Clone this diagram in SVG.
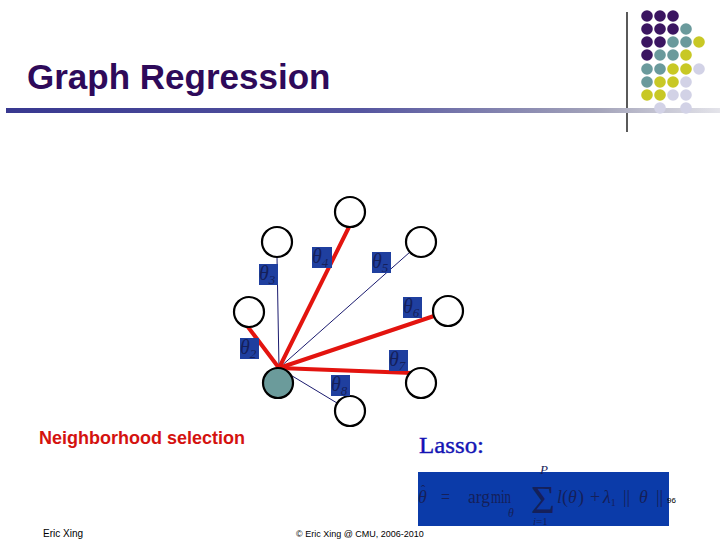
<svg xmlns="http://www.w3.org/2000/svg" width="720" height="540" viewBox="0 0 720 540">
<defs>
<linearGradient id="bar" x1="6" y1="0" x2="720" y2="0" gradientUnits="userSpaceOnUse">
<stop offset="0" stop-color="#383890"/>
<stop offset="0.5" stop-color="#5656a0"/>
<stop offset="0.83" stop-color="#a4a4ba"/>
<stop offset="1" stop-color="#e4e4ea"/>
</linearGradient>
</defs>
<style>
.node{fill:#fff;stroke:#000;stroke-width:2.2}
.hub{fill:#6b9b9b;stroke:#000;stroke-width:2.2}
.red{stroke:#e3140f;stroke-width:4;stroke-linecap:round}
.thin{stroke:#1a1a6e;stroke-width:1}
.lbl{fill:#1f3f9f}
.th{font-family:'Liberation Serif',serif;font-style:italic;fill:#15205a}
.f{font-family:'Liberation Serif',serif;fill:#15205a}
.P{fill:#3b1561}.T{fill:#6a9a9c}.Y{fill:#c8c825}.L{fill:#d2d2e6}
</style>
<rect width="720" height="540" fill="#fff"/>
<g id="decor">
<line x1="627" y1="12" x2="627" y2="132" stroke="#000" stroke-width="1.3"/>
<rect x="6" y="108" width="714" height="5" fill="url(#bar)"/>
<g>
<circle class="P" cx="647" cy="16" r="5.8"/><circle class="P" cx="660" cy="16" r="5.8"/><circle class="P" cx="673" cy="16" r="5.8"/>
<circle class="P" cx="647" cy="29" r="5.8"/><circle class="P" cx="660" cy="29" r="5.8"/><circle class="P" cx="673" cy="29" r="5.8"/><circle class="T" cx="686" cy="29" r="5.8"/>
<circle class="P" cx="647" cy="42" r="5.8"/><circle class="P" cx="660" cy="42" r="5.8"/><circle class="T" cx="673" cy="42" r="5.8"/><circle class="T" cx="686" cy="42" r="5.8"/><circle class="Y" cx="699" cy="42" r="5.8"/>
<circle class="P" cx="647" cy="55" r="5.8"/><circle class="T" cx="660" cy="55" r="5.8"/><circle class="T" cx="673" cy="55" r="5.8"/><circle class="Y" cx="686" cy="55" r="5.8"/>
<circle class="T" cx="647" cy="69" r="5.8"/><circle class="T" cx="660" cy="69" r="5.8"/><circle class="Y" cx="673" cy="69" r="5.8"/><circle class="Y" cx="686" cy="69" r="5.8"/><circle class="L" cx="699" cy="69" r="5.8"/>
<circle class="T" cx="647" cy="82" r="5.8"/><circle class="Y" cx="660" cy="82" r="5.8"/><circle class="Y" cx="673" cy="82" r="5.8"/><circle class="L" cx="686" cy="82" r="5.8"/>
<circle class="Y" cx="647" cy="95" r="5.8"/><circle class="Y" cx="660" cy="95" r="5.8"/><circle class="L" cx="673" cy="95" r="5.8"/><circle class="L" cx="686" cy="95" r="5.8"/>
<circle class="L" cx="660" cy="108" r="5.8"/><circle class="L" cx="686" cy="108" r="5.8"/>
</g>
</g>
<text x="27" y="89" font-family="'Liberation Sans',Arial,sans-serif" font-weight="bold" font-size="35" fill="#2e0a5a">Graph Regression</text>
<g id="connectors">
<line class="thin" x1="277" y1="257" x2="279" y2="368"/>
<line class="thin" x1="410" y1="252" x2="279" y2="368"/>
<line class="thin" x1="279" y1="368" x2="337" y2="403"/>
<line class="red" x1="279" y1="368" x2="349" y2="227"/>
<line class="red" x1="279" y1="368" x2="248" y2="327"/>
<line class="red" x1="279" y1="368" x2="434" y2="316"/>
<line class="red" x1="279" y1="368" x2="412" y2="373"/>
</g>
<g id="n1"><circle class="node" cx="350" cy="212" r="15"/></g>
<g id="n3"><circle class="node" cx="277" cy="242" r="15"/></g>
<g id="n5"><circle class="node" cx="421" cy="242" r="15"/></g>
<g id="n2"><circle class="node" cx="249" cy="312" r="15"/></g>
<g id="n6"><circle class="node" cx="448" cy="311" r="15"/></g>
<g id="hub"><circle class="hub" cx="278" cy="383" r="15"/></g>
<g id="n7"><circle class="node" cx="421" cy="383" r="15"/></g>
<g id="n8"><circle class="node" cx="350" cy="411" r="15"/></g>
<g id="labels">
<g><rect class="lbl" x="259" y="264" width="19" height="21"/><text class="th" x="259" y="280" font-size="20">θ<tspan font-size="13" dy="4">3</tspan></text></g>
<g><rect class="lbl" x="312" y="247" width="20" height="21"/><text class="th" x="312" y="263" font-size="20">θ<tspan font-size="13" dy="4">4</tspan></text></g>
<g><rect class="lbl" x="372" y="252" width="19" height="21"/><text class="th" x="372" y="268" font-size="20">θ<tspan font-size="13" dy="4">5</tspan></text></g>
<g><rect class="lbl" x="403" y="297" width="19" height="21"/><text class="th" x="403" y="313" font-size="20">θ<tspan font-size="13" dy="4">6</tspan></text></g>
<g><rect class="lbl" x="240" y="338" width="19" height="21"/><text class="th" x="240" y="354" font-size="20">θ<tspan font-size="13" dy="4">2</tspan></text></g>
<g><rect class="lbl" x="389" y="350" width="19" height="21"/><text class="th" x="389" y="366" font-size="20">θ<tspan font-size="13" dy="4">7</tspan></text></g>
<g><rect class="lbl" x="331" y="375" width="19" height="21"/><text class="th" x="331" y="391" font-size="20">θ<tspan font-size="13" dy="4">8</tspan></text></g>
</g>
<text x="39" y="444" font-family="'Liberation Sans',Arial,sans-serif" font-weight="bold" font-size="18" fill="#d4120f">Neighborhood selection</text>
<text x="419" y="453" font-family="'Liberation Serif',serif" font-size="24" fill="#1414b4" textLength="65" lengthAdjust="spacingAndGlyphs" stroke="#1414b4" stroke-width="0.4">Lasso:</text>
<g id="formula">
<rect x="418" y="472" width="251" height="54" fill="#0b3ba9"/>
<text class="f" x="421" y="494" font-size="13">ˆ</text>
<text class="th" x="418" y="503" font-size="18">θ</text>
<text class="f" x="441" y="503" font-size="18" textLength="9" lengthAdjust="spacingAndGlyphs">=</text>
<text class="f" x="468" y="503" font-size="18" textLength="22" lengthAdjust="spacingAndGlyphs">arg</text>
<text class="f" x="491" y="503" font-size="18" textLength="20" lengthAdjust="spacingAndGlyphs">min</text>
<text class="th" x="508" y="517" font-size="12">θ</text>
<text class="f" x="531" y="513" font-size="40" textLength="24" lengthAdjust="spacingAndGlyphs">Σ</text>
<text class="th" x="540" y="474" font-size="13">P</text>
<text class="th" x="533" y="525" font-size="11">i<tspan font-style="normal">=1</tspan></text>
<text class="th" x="557" y="503" font-size="18">l</text>
<text class="f" x="562" y="503" font-size="18">(</text>
<text class="th" x="568" y="503" font-size="18">θ</text>
<text class="f" x="578" y="503" font-size="18">)</text>
<text class="f" x="590" y="503" font-size="18">+</text>
<text class="th" x="603" y="503" font-size="18">λ<tspan font-style="normal" font-size="10" dy="3">1</tspan></text>
<text class="f" x="623" y="503" font-size="18">||</text>
<text class="th" x="639" y="503" font-size="18">θ</text>
<text class="f" x="656" y="503" font-size="18">||</text>
<text x="667" y="503" font-family="'Liberation Sans',Arial,sans-serif" font-size="8" fill="#000">96</text>
</g>
<text x="43" y="537" font-family="'Liberation Sans',Arial,sans-serif" font-size="10" fill="#000">Eric Xing</text>
<text x="296" y="537" font-family="'Liberation Sans',Arial,sans-serif" font-size="9" fill="#000">© Eric Xing @ CMU, 2006-2010</text>
</svg>
